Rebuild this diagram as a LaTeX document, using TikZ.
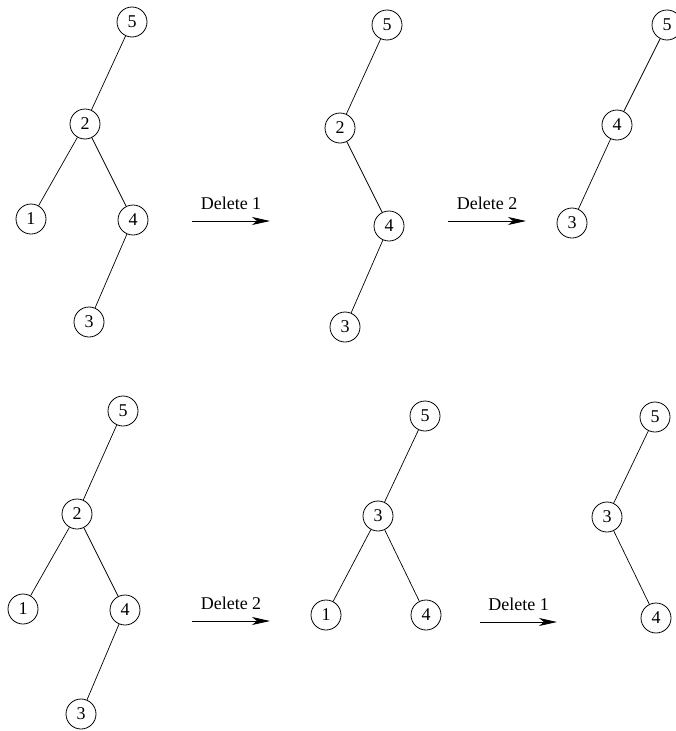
\documentclass[tikz,border=0pt]{standalone}
\usepackage{fontspec}
\setmainfont{Liberation Serif}
\usetikzlibrary{arrows.meta}

\def\mynoderadius{15}
\tikzset{
  vertex/.style = {draw, circle, minimum size=2*\mynoderadius pt, inner sep=0pt, line width=0.8pt},
  edge/.style = {line width=0.7pt},
  delarrow/.style = {line width=0.8pt, -{Stealth[length=18pt, width=8pt, inset=5pt]}},
  dellabel/.style = {font=\fontsize{18}{20}\selectfont}
}

\begin{document}
\begin{tikzpicture}[x=1pt, y=-1pt, every node/.style={font=\fontsize{18}{20}\selectfont}]
\useasboundingbox (0,0) rectangle (675,731);

% top row, before
\node[vertex] (a5) at (132,22) {5};
\node[vertex] (a2) at (85,124) {2};
\node[vertex] (a1) at (31,219) {1};
\node[vertex] (a4) at (133,220) {4};
\node[vertex] (a3) at (89,322) {3};
\draw[edge] (a5) -- (a2);
\draw[edge] (a2) -- (a1);
\draw[edge] (a2) -- (a4);
\draw[edge] (a4) -- (a3);

% first arrow
\coordinate (p1) at (192,221);
\coordinate (q1) at (270,221);
\draw[delarrow] (p1) -- (q1) node[midway, above=8pt, dellabel] (l1) {Delete 1};

% top row, after deleting 1
\node[vertex] (b5) at (387,25) {5};
\node[vertex] (b2) at (340,128) {2};
\node[vertex] (b4) at (389,226) {4};
\node[vertex] (b3) at (345,327) {3};
\draw[edge] (b5) -- (b2);
\draw[edge] (b2) -- (b4);
\draw[edge] (b4) -- (b3);

% second arrow
\coordinate (p2) at (448,221);
\coordinate (q2) at (526,221);
\draw[delarrow] (p2) -- (q2) node[midway, above=8pt, dellabel] (l2) {Delete 2};

% top row, after deleting 2
\node[vertex] (c5) at (667,25) {5};
\node[vertex] (c4) at (617,125) {4};
\node[vertex] (c3) at (572,223) {3};
\draw[edge] (c5) -- (c4);
\draw[edge] (c4) -- (c3);

% bottom row, before
\node[vertex] (d5) at (123,411) {5};
\node[vertex] (d2) at (77,514) {2};
\node[vertex] (d1) at (23,609) {1};
\node[vertex] (d4) at (125,610) {4};
\node[vertex] (d3) at (81,714) {3};
\draw[edge] (d5) -- (d2);
\draw[edge] (d2) -- (d1);
\draw[edge] (d2) -- (d4);
\draw[edge] (d4) -- (d3);

% third arrow
\coordinate (p3) at (192,621);
\coordinate (q3) at (270,621);
\draw[delarrow] (p3) -- (q3) node[midway, above=8pt, dellabel] (l3) {Delete 2};

% bottom row, after deleting 2
\node[vertex] (e5) at (425,416) {5};
\node[vertex] (e3) at (378,516) {3};
\node[vertex] (e1) at (326,615) {1};
\node[vertex] (e4) at (426,615) {4};
\draw[edge] (e5) -- (e3);
\draw[edge] (e3) -- (e1);
\draw[edge] (e3) -- (e4);

% fourth arrow
\coordinate (p4) at (480,622);
\coordinate (q4) at (557,622);
\draw[delarrow] (p4) -- (q4) node[midway, above=8pt, dellabel] (l4) {Delete 1};

% bottom row, after deleting 1
\node[vertex] (f5) at (655,417) {5};
\node[vertex] (f3) at (607,517) {3};
\node[vertex] (f4) at (656,618) {4};
\draw[edge] (f5) -- (f3);
\draw[edge] (f3) -- (f4);
\end{tikzpicture}
\end{document}
